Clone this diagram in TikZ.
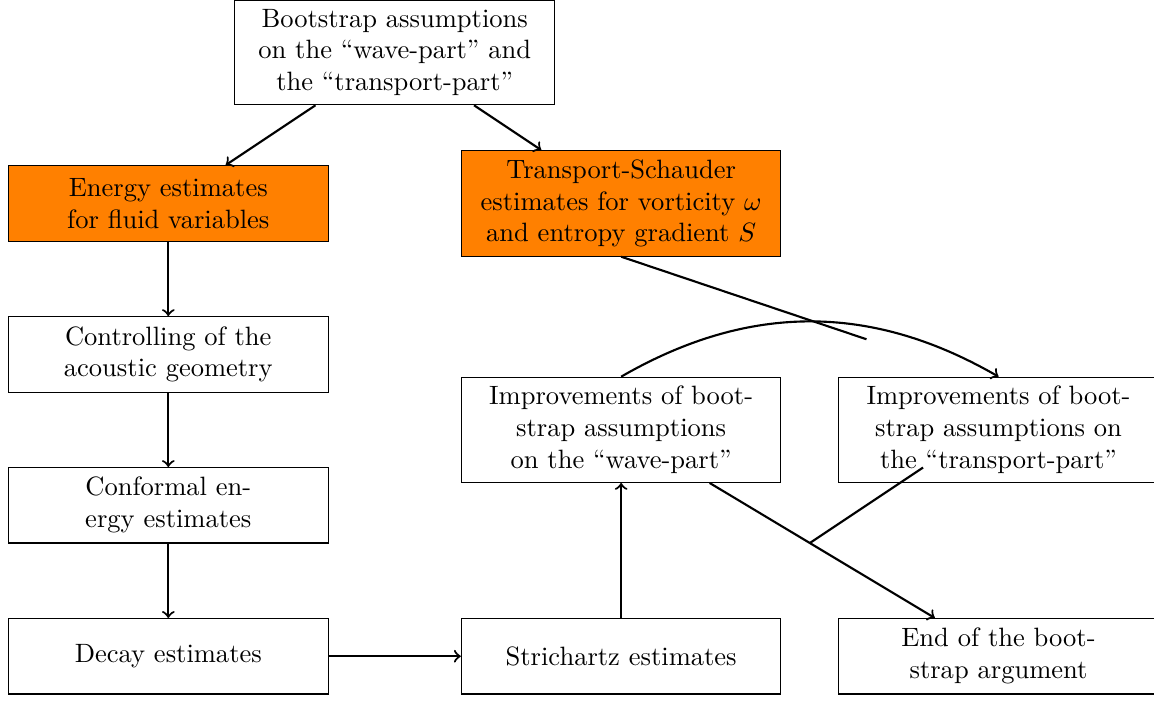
\documentclass[tikz,border=0pt]{standalone}
\begin{document}
\begin{tikzpicture}[box/.style={rectangle, draw, text width=4cm, minimum height=1cm, align=center},
		  hot/.style={box, fill=orange},
		  link/.style={thick},
		  arr/.style={thick, ->}]
		  \useasboundingbox (-2.23,-6.58) rectangle (13.06,2.695);
		  \node[box] (boot) at (3,2) {Bootstrap assumptions on the ``wave-part'' and the ``transport-part''};
		  \node[hot] (energy) at (0,0) {Energy estimates for fluid variables};
		  \node[hot] (transport) at (6,0) {Transport-Schauder estimates for vorticity $\omega$ and entropy gradient $S$};
		  \node[box] (acoustic) at (0,-2) {Controlling of the acoustic geometry};
		  \node[box] (conformal) at (0,-4) {Conformal energy estimates};
		  \node[box] (decay) at (0,-6) {Decay estimates};
		  \node[box] (strichartz) at (6,-6) {Strichartz estimates};
		  \node[box] (impwave) at (6,-3) {Improvements of bootstrap assumptions on the ``wave-part''};
		  \node[box] (imptransport) at (11,-3) {Improvements of bootstrap assumptions on the ``transport-part''};
		  \node[box] (end) at (11,-6) {End of the bootstrap argument};
		  
		  \coordinate (loose) at (9.25,-1.8);
		  \coordinate (tstart) at (10,-3.5);
		  \coordinate (meet) at (8.5,-4.5);
		  
		  \draw[arr] (boot) -- (energy);
		  \draw[arr] (boot) -- (transport);
		  \draw[arr] (energy) -- (acoustic);
		  \draw[arr] (acoustic) -- (conformal);
		  \draw[arr] (conformal) -- (decay);
		  \draw[arr] (decay) -- (strichartz);
		  \draw[arr] (strichartz) -- (impwave);
		  \draw[arr] (impwave.north) to [bend left=30] (imptransport.north);
		  \draw[arr] (impwave) -- (end);
		  \draw[link] (transport.south) -- (loose);
		  \draw[link] (tstart) -- (meet);
		\end{tikzpicture}
\end{document}
